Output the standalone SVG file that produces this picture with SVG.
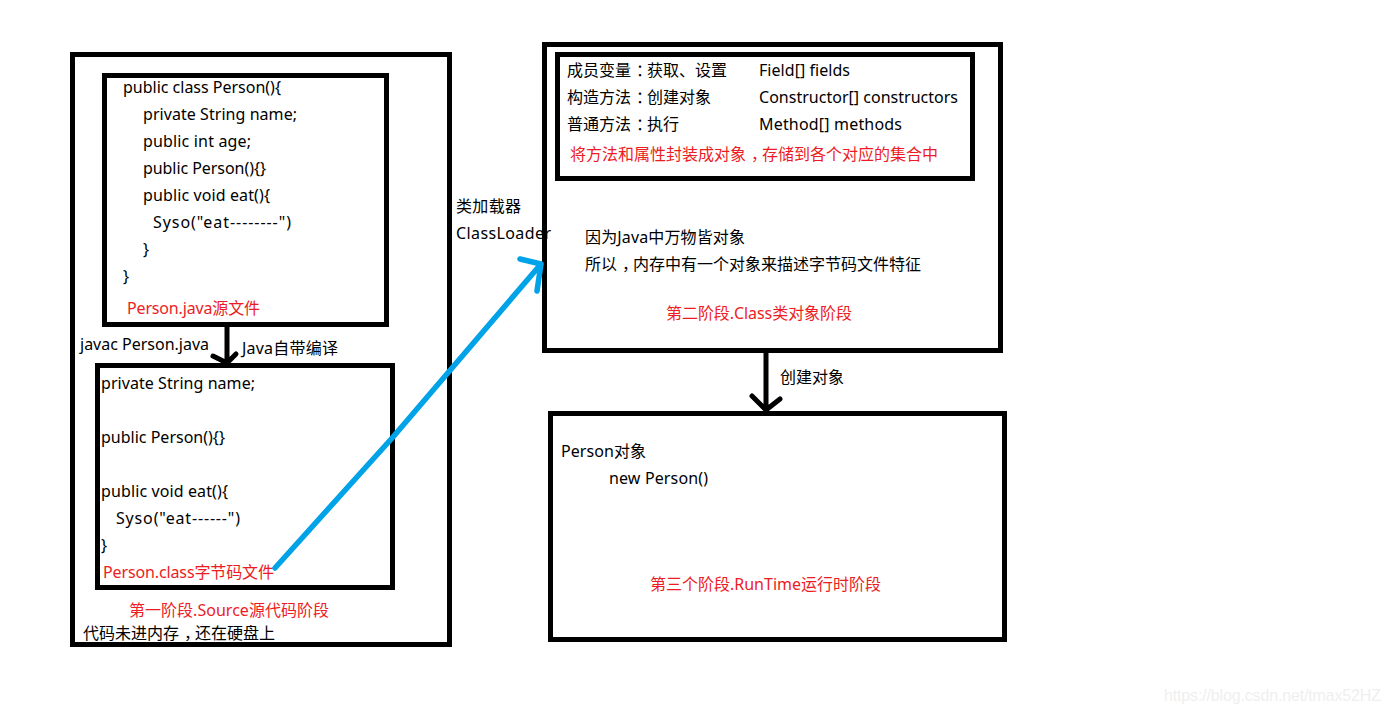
<svg xmlns="http://www.w3.org/2000/svg" width="1391" height="714" viewBox="0 0 1391 714">
<style>
text{font-family:"Noto Sans","Noto Sans CJK SC",sans-serif;font-size:16px;fill:#000}
text.r{fill:#ed1c24}
text.w{font-family:"Liberation Sans",sans-serif;fill:#efefef;font-size:16px}
.p{letter-spacing:-5px}
.b{fill:none;stroke:#000;stroke-width:5}
.c{fill:none;stroke:#000;stroke-width:5;stroke-linecap:round;stroke-linejoin:round}
.bl{fill:none;stroke:#00a2e8;stroke-width:5.5;stroke-linecap:round;stroke-linejoin:round}
</style>
<rect width="1391" height="714" fill="#fff"/>
<g id="source-stage">
<rect class="b" x="72.5" y="54.5" width="377" height="590"/>
<text class="r" x="129" y="616" textLength="200">第一阶段.Source源代码阶段</text>
<text x="83" y="639">代码未进内存<tspan class="p" dx="5">，</tspan>还在硬盘上</text>
</g>
<g id="java-file">
<rect class="b" x="104.5" y="75.5" width="282" height="249"/>
<text x="123" y="93" textLength="158">public class Person(){</text>
<text x="143" y="120" textLength="154">private String name;</text>
<text x="143" y="147" textLength="108">public int age;</text>
<text x="143" y="174" textLength="123">public Person(){}</text>
<text x="143" y="201" textLength="127">public void eat(){</text>
<text x="153" y="228" textLength="138">Syso("eat--------")</text>
<text x="143" y="255">}</text>
<text x="123" y="282">}</text>
<text class="r" x="127" y="314" textLength="133">Person.java源文件</text>
</g>
<g id="class-file">
<rect class="b" x="97.5" y="365.5" width="295" height="222"/>
<text x="101" y="389" textLength="154">private String name;</text>
<text x="101" y="443" textLength="124">public Person(){}</text>
<text x="101" y="497" textLength="127">public void eat(){</text>
<text x="116" y="524" textLength="124">Syso("eat------")</text>
<text x="101" y="551">}</text>
<text class="r" x="103" y="578" textLength="171">Person.class字节码文件</text>
</g>
<g id="class-loader">
<text x="456" y="212" textLength="65">类加载器</text>
<text x="456" y="239" textLength="95">ClassLoader</text>
</g>
<g id="class-stage">
<rect class="b" x="544.5" y="44.5" width="456" height="306"/>
<text x="585" y="243" textLength="160">因为Java中万物皆对象</text>
<text x="585" y="270">所以<tspan class="p" dx="5">，</tspan>内存中有一个对象来描述字节码文件特征</text>
<text class="r" x="666" y="319" textLength="186">第二阶段.Class类对象阶段</text>
</g>
<g id="members">
<rect class="b" x="557.5" y="54.5" width="415" height="124"/>
<text x="567" y="76">成员变量<tspan class="p" dx="5">：</tspan>获取、设置</text>
<text x="759" y="76" textLength="91">Field[] fields</text>
<text x="567" y="103">构造方法<tspan class="p" dx="5">：</tspan>创建对象</text>
<text x="759" y="103" textLength="199">Constructor[] constructors</text>
<text x="567" y="130">普通方法<tspan class="p" dx="5">：</tspan>执行</text>
<text x="759" y="130" textLength="143">Method[] methods</text>
<text class="r" x="570" y="160">将方法和属性封装成对象<tspan class="p" dx="5">，</tspan>存储到各个对应的集合中</text>
</g>
<g id="runtime-stage">
<rect class="b" x="550.5" y="413.5" width="454" height="226"/>
<text x="561" y="457" textLength="85">Person对象</text>
<text x="609" y="484" textLength="99">new Person()</text>
<text class="r" x="650" y="590" textLength="231">第三个阶段.RunTime运行时阶段</text>
</g>
<g id="connectors">
<path class="c" d="M227 327V363M213 356L227 363L236 354"/>
<text x="80" y="350" textLength="129">javac Person.java</text>
<text x="242" y="354" textLength="96">Java自带编译</text>
<path class="c" d="M766 353V410M752 396L766 410L780 399"/>
<text x="780" y="383" textLength="64">创建对象</text>
<path class="bl" d="M275 568L393 437L541 264M520 259L541 264L537 291"/>
</g>
<text class="w" x="1164" y="701" textLength="217">https://blog.csdn.net/tmax52HZ</text>
</svg>
